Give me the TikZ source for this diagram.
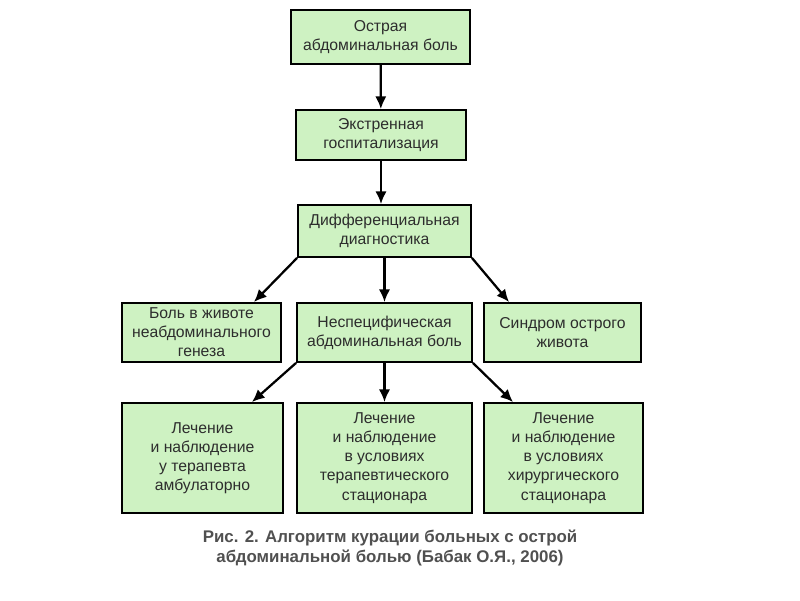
\documentclass[tikz,border=0pt]{standalone}
\usepackage{fontspec}
\setmainfont{Liberation Sans}
\usetikzlibrary{arrows, arrows.meta}
\definecolor{boxgreen}{RGB}{206,242,194}
\definecolor{txtgray}{RGB}{45,45,45}
\definecolor{capgray}{RGB}{80,80,80}
\tikzset{box/.style = {shape = rectangle, draw, line width = 1.3pt, fill = boxgreen, text = txtgray, align = center, font = \fontsize{11.2}{13.6}\selectfont, inner sep = 0pt}}
\tikzset{edge/.style = {-{Latex[length=9pt, width=8pt]}, line width = 1.6pt}}

\begin{document}
\begin{tikzpicture}[x = 0.025cm, y = -0.025cm]
				\useasboundingbox (0, 0) rectangle (800, 600);

				\node[box, minimum width = 179*0.025cm, minimum height = 54*0.025cm] (ostr) at (380.5, 37) {Острая\\абдоминальная боль};
				\node[box, minimum width = 170*0.025cm, minimum height = 50*0.025cm] (gosp) at (381, 135) {Экстренная\\госпитализация};
				\node[box, minimum width = 173*0.025cm, minimum height = 52*0.025cm] (diag) at (384.5, 231) {Дифференциальная\\диагностика};

				\node[box, minimum width = 159*0.025cm, minimum height = 59*0.025cm] (neabd) at (201.5, 332.5) {Боль в животе\\неабдоминального\\генеза};
				\node[box, minimum width = 175*0.025cm, minimum height = 59*0.025cm] (nespec) at (384.5, 332.5) {Неспецифическая\\абдоминальная боль};
				\node[box, minimum width = 157*0.025cm, minimum height = 59*0.025cm] (sindr) at (562.5, 332.5) {Синдром острого\\живота};

				\node[box, minimum width = 161*0.025cm, minimum height = 110*0.025cm] (amb) at (202.5, 458) {Лечение\\и наблюдение\\у терапевта\\амбулаторно};
				\node[box, minimum width = 175*0.025cm, minimum height = 110*0.025cm] (terap) at (384.5, 458) {Лечение\\и наблюдение\\в условиях\\терапевтического\\стационара};
				\node[box, minimum width = 159*0.025cm, minimum height = 110*0.025cm] (hir) at (563.5, 458) {Лечение\\и наблюдение\\в условиях\\хирургического\\стационара};

				\node[text = capgray, align = center, font = \bfseries\fontsize{12}{14.4}\selectfont] (cap) at (390, 548) {Рис. 2. Алгоритм курации больных с острой\\абдоминальной болью (Бабак О.Я., 2006)};

				\draw[edge] (ostr) -- (gosp);
				\draw[edge] (gosp) -- (gosp |- diag.north);
				\draw[edge] (diag.south west) -- ([xshift = -0.7cm]neabd.north east);
				\draw[edge] (diag) -- (nespec);
				\draw[edge] (diag.south east) -- ([xshift = 0.65cm]sindr.north west);
				\draw[edge] (nespec.south west) -- ([xshift = -0.8cm]amb.north east);
				\draw[edge] (nespec) -- (terap);
				\draw[edge] (nespec.south east) -- ([xshift = 0.75cm]hir.north west);
			\end{tikzpicture}
\end{document}
